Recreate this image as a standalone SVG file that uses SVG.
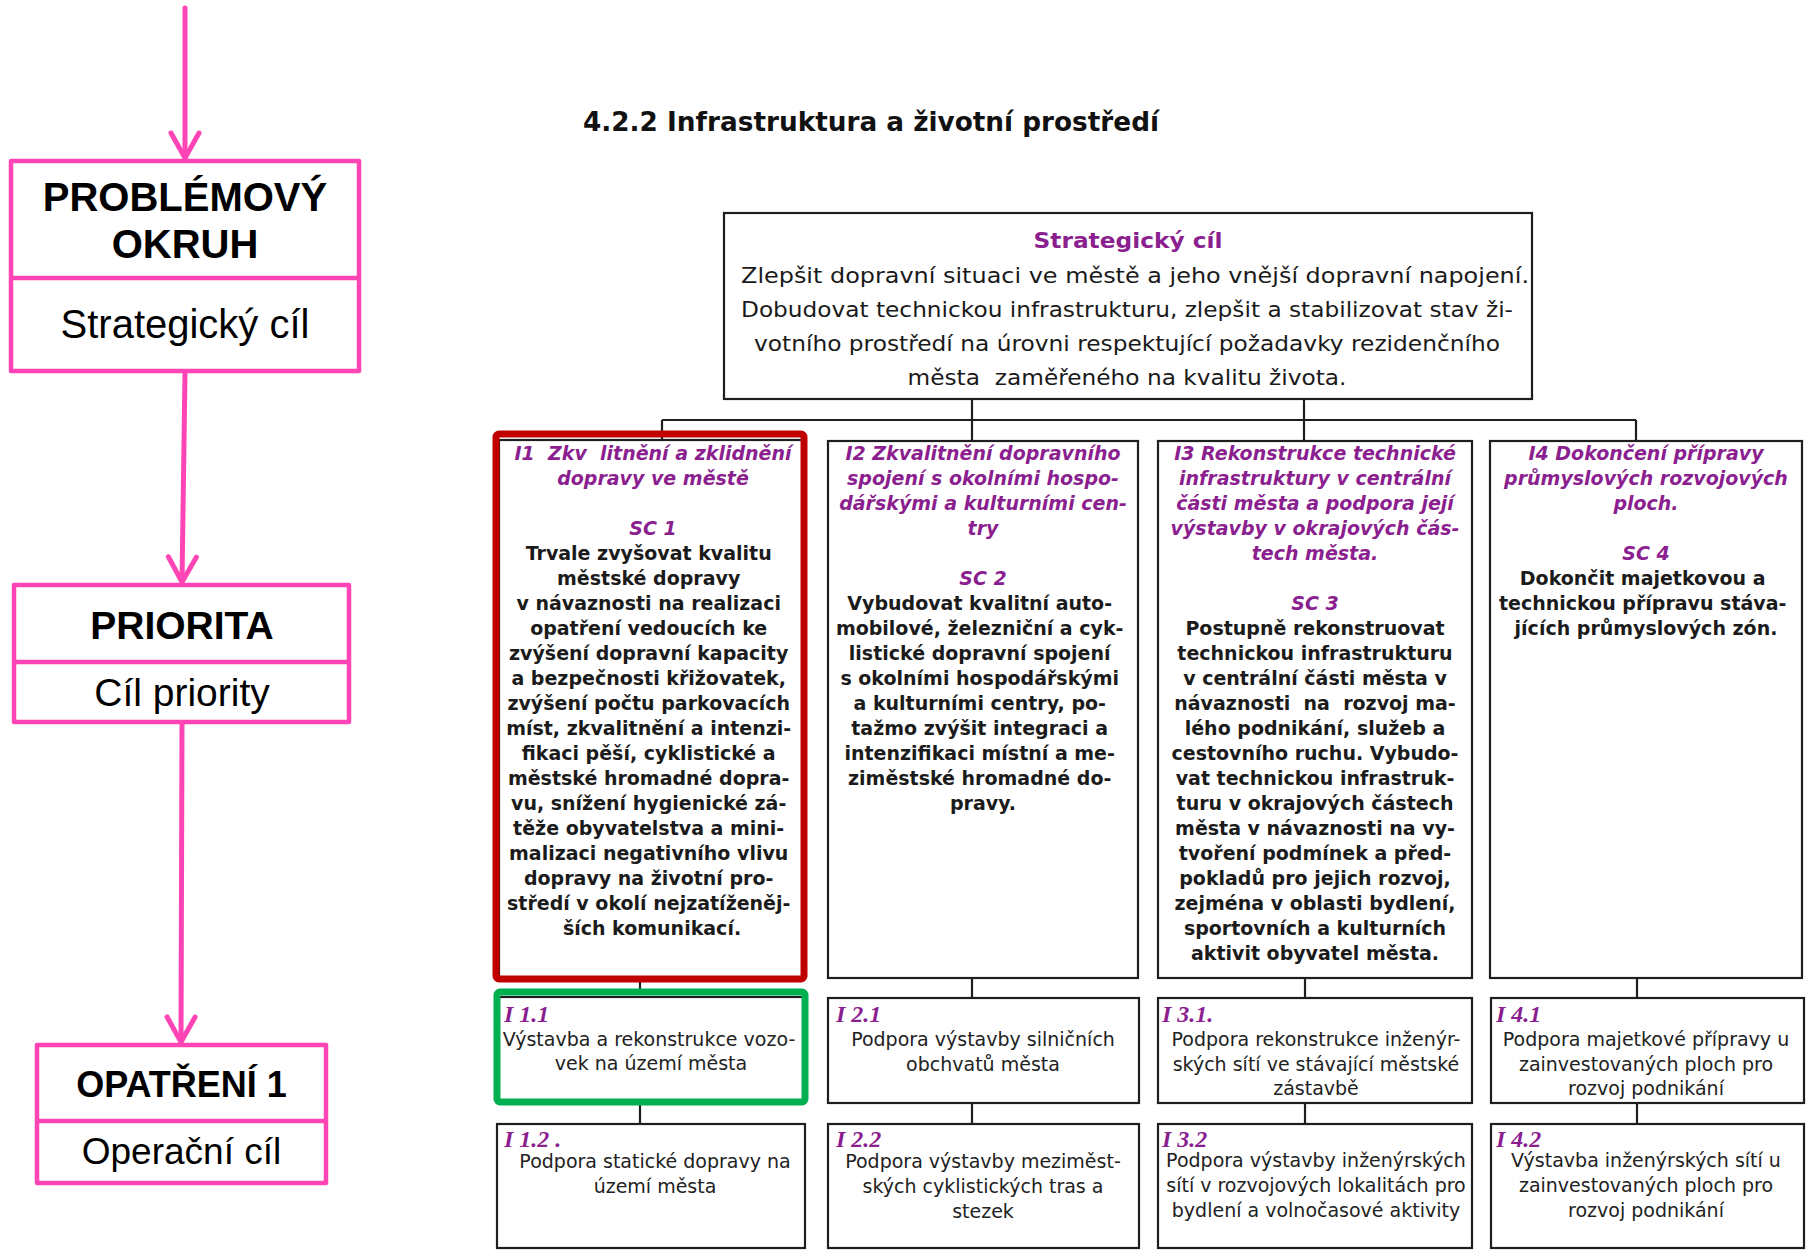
<svg xmlns="http://www.w3.org/2000/svg" width="1808" height="1250" viewBox="0 0 1808 1250">
<defs>
<style>
.pk{fill:none;stroke:#FF45B5;stroke-width:4.5;stroke-linejoin:round}
.pa{fill:none;stroke:#FF45B5;stroke-width:5;stroke-linecap:round}
.lb{font-family:"Liberation Sans",Arial,sans-serif;font-weight:bold;fill:#000;text-anchor:middle}
.lr{font-family:"Liberation Sans",Arial,sans-serif;fill:#000;text-anchor:middle}
.bx{fill:#fff;stroke:#1e1e1e;stroke-width:2.2}
.cn{fill:none;stroke:#1e1e1e;stroke-width:2.2}
.tt{font-family:"DejaVu Sans",Verdana,sans-serif;font-size:21px;fill:#1a1a1a;text-anchor:middle}
.ph{font-family:"DejaVu Sans",Verdana,sans-serif;font-size:19px;font-weight:bold;font-style:italic;fill:#8B1F8F;text-anchor:middle}
.sb{font-family:"DejaVu Sans",Verdana,sans-serif;font-size:19px;font-weight:bold;fill:#1b1b1b;text-anchor:middle}
.il{font-family:"Liberation Serif","Times New Roman",serif;font-size:24px;font-weight:bold;font-style:italic;fill:#8B1F8F}
.tx{font-family:"DejaVu Sans",Verdana,sans-serif;font-size:19px;fill:#222;text-anchor:middle}
</style>
<marker id="chev" markerUnits="userSpaceOnUse" markerWidth="60" markerHeight="60" viewBox="-30 -30 60 60" refX="0" refY="0" orient="auto" overflow="visible">
<path d="M-25,-14 L0,0 L-25,14" fill="none" stroke="#FF45B5" stroke-width="5" stroke-linecap="round" stroke-linejoin="round"/>
</marker>
</defs>
<rect width="1808" height="1250" fill="#fff"/>

<g id="pink-connectors">
<line class="pa" x1="185" y1="8" x2="185" y2="158" marker-end="url(#chev)"/>
<line class="pa" x1="185" y1="373" x2="182" y2="582" marker-end="url(#chev)"/>
<line class="pa" x1="182" y1="724" x2="181" y2="1042" marker-end="url(#chev)"/>
</g>

<g id="problemovy-okruh">
<rect class="pk" x="11" y="161" width="348" height="210"/>
<line class="pk" x1="11" y1="278" x2="359" y2="278"/>
<text class="lb" x="185" y="211" font-size="40">PROBLÉMOVÝ</text>
<text class="lb" x="185" y="258" font-size="40">OKRUH</text>
<text class="lr" x="185" y="338" font-size="40">Strategický cíl</text>
</g>

<g id="priorita">
<rect class="pk" x="14" y="585" width="335" height="137"/>
<line class="pk" x1="14" y1="662" x2="349" y2="662"/>
<text class="lb" x="182" y="639" font-size="39">PRIORITA</text>
<text class="lr" x="182" y="706" font-size="39">Cíl priority</text>
</g>

<g id="opatreni">
<rect class="pk" x="37" y="1045" width="289" height="138"/>
<line class="pk" x1="37" y1="1121" x2="326" y2="1121"/>
<text class="lb" x="181.5" y="1097" font-size="36">OPATŘENÍ 1</text>
<text class="lr" x="181.5" y="1164" font-size="37">Operační cíl</text>
</g>

<text id="title" x="583" y="131" font-family="DejaVu Sans, Verdana, sans-serif" font-weight="bold" font-size="26" fill="#111" textLength="576" lengthAdjust="spacingAndGlyphs">4.2.2 Infrastruktura a životní prostředí</text>

<g id="connectors">
<line class="cn" x1="972" y1="399" x2="972" y2="420"/>
<line class="cn" x1="1304" y1="399" x2="1304" y2="420"/>
<line class="cn" x1="662" y1="420" x2="1636" y2="420"/>
<line class="cn" x1="662" y1="420" x2="662" y2="440"/>
<line class="cn" x1="972" y1="420" x2="972" y2="441"/>
<line class="cn" x1="1304" y1="420" x2="1304" y2="441"/>
<line class="cn" x1="1636" y1="420" x2="1636" y2="441"/>
<line class="cn" x1="640" y1="980" x2="640" y2="992"/>
<line class="cn" x1="640" y1="1103" x2="640" y2="1124"/>
<line class="cn" x1="972" y1="978" x2="972" y2="998"/>
<line class="cn" x1="972" y1="1103" x2="972" y2="1124"/>
<line class="cn" x1="1305" y1="978" x2="1305" y2="998"/>
<line class="cn" x1="1305" y1="1103" x2="1305" y2="1124"/>
<line class="cn" x1="1637" y1="978" x2="1637" y2="998"/>
<line class="cn" x1="1637" y1="1103" x2="1637" y2="1124"/>
</g>

<g id="strategicky-cil">
<rect class="bx" x="724" y="213" width="808" height="186"/>
<text x="1128" y="248" font-family="DejaVu Sans, Verdana, sans-serif" font-weight="bold" font-size="22" fill="#8B1F8F" text-anchor="middle" textLength="189" lengthAdjust="spacingAndGlyphs">Strategický cíl</text>
<text class="tt" x="1135" y="283" textLength="788" lengthAdjust="spacingAndGlyphs">Zlepšit dopravní situaci ve městě a jeho vnější dopravní napojení.</text>
<text class="tt" x="1127" y="317" textLength="772" lengthAdjust="spacingAndGlyphs">Dobudovat technickou infrastrukturu, zlepšit a stabilizovat stav ži-</text>
<text class="tt" x="1127" y="351" textLength="746" lengthAdjust="spacingAndGlyphs">votního prostředí na úrovni respektující požadavky rezidenčního</text>
<text class="tt" x="1127" y="385" textLength="439" lengthAdjust="spacingAndGlyphs" xml:space="preserve">města  zaměřeného na kvalitu života.</text>
</g>

<g id="I1">
<rect class="bx" x="499" y="440" width="306" height="538"/>
<rect x="496" y="434" width="308" height="545" rx="3" fill="none" stroke="#C00000" stroke-width="7"/>
<text class="ph" xml:space="preserve"><tspan x="653" y="460">I1  Zkv  litnění a zklidnění</tspan><tspan x="653" y="485">dopravy ve městě</tspan><tspan x="653" y="535">SC 1</tspan></text>
<text class="sb">
<tspan x="652" y="560">Trvale zvyšovat kvalitu</tspan>
<tspan x="652" y="585">městské dopravy</tspan>
<tspan x="652" y="610">v návaznosti na realizaci</tspan>
<tspan x="652" y="635">opatření vedoucích ke</tspan>
<tspan x="652" y="660">zvýšení dopravní kapacity</tspan>
<tspan x="652" y="685">a bezpečnosti křižovatek,</tspan>
<tspan x="652" y="710">zvýšení počtu parkovacích</tspan>
<tspan x="652" y="735">míst, zkvalitnění a intenzi-</tspan>
<tspan x="652" y="760">fikaci pěší, cyklistické a</tspan>
<tspan x="652" y="785">městské hromadné dopra-</tspan>
<tspan x="652" y="810">vu, snížení hygienické zá-</tspan>
<tspan x="652" y="835">těže obyvatelstva a mini-</tspan>
<tspan x="652" y="860">malizaci negativního vlivu</tspan>
<tspan x="652" y="885">dopravy na životní pro-</tspan>
<tspan x="652" y="910">středí v okolí nejzatíženěj-</tspan>
<tspan x="652" y="935">ších komunikací.</tspan>
</text>
</g>

<g id="I2">
<rect class="bx" x="828" y="441" width="310" height="537"/>
<text class="ph"><tspan x="983" y="460">I2 Zkvalitnění dopravního</tspan><tspan x="983" y="485">spojení s okolními hospo-</tspan><tspan x="983" y="510">dářskými a kulturními cen-</tspan><tspan x="983" y="535">try</tspan><tspan x="983" y="585">SC 2</tspan></text>
<text class="sb">
<tspan x="983" y="610">Vybudovat kvalitní auto-</tspan>
<tspan x="983" y="635">mobilové, železniční a cyk-</tspan>
<tspan x="983" y="660">listické dopravní spojení</tspan>
<tspan x="983" y="685">s okolními hospodářskými</tspan>
<tspan x="983" y="710">a kulturními centry, po-</tspan>
<tspan x="983" y="735">tažmo zvýšit integraci a</tspan>
<tspan x="983" y="760">intenzifikaci místní a me-</tspan>
<tspan x="983" y="785">ziměstské hromadné do-</tspan>
<tspan x="983" y="810">pravy.</tspan>
</text>
</g>

<g id="I3">
<rect class="bx" x="1158" y="441" width="314" height="537"/>
<text class="ph"><tspan x="1315" y="460">I3 Rekonstrukce technické</tspan><tspan x="1315" y="485">infrastruktury v centrální</tspan><tspan x="1315" y="510">části města a podpora její</tspan><tspan x="1315" y="535">výstavby v okrajových čás-</tspan><tspan x="1315" y="560">tech města.</tspan><tspan x="1315" y="610">SC 3</tspan></text>
<text class="sb" xml:space="preserve"><tspan x="1315" y="635">Postupně rekonstruovat</tspan><tspan x="1315" y="660">technickou infrastrukturu</tspan><tspan x="1315" y="685">v centrální části města v</tspan><tspan x="1315" y="710">návaznosti  na  rozvoj ma-</tspan><tspan x="1315" y="735">lého podnikání, služeb a</tspan><tspan x="1315" y="760">cestovního ruchu. Vybudo-</tspan><tspan x="1315" y="785">vat technickou infrastruk-</tspan><tspan x="1315" y="810">turu v okrajových částech</tspan><tspan x="1315" y="835">města v návaznosti na vy-</tspan><tspan x="1315" y="860">tvoření podmínek a před-</tspan><tspan x="1315" y="885">pokladů pro jejich rozvoj,</tspan><tspan x="1315" y="910">zejména v oblasti bydlení,</tspan><tspan x="1315" y="935">sportovních a kulturních</tspan><tspan x="1315" y="960">aktivit obyvatel města.</tspan></text>
</g>

<g id="I4">
<rect class="bx" x="1490" y="441" width="312" height="537"/>
<text class="ph"><tspan x="1646" y="460">I4 Dokončení přípravy</tspan><tspan x="1646" y="485">průmyslových rozvojových</tspan><tspan x="1646" y="510">ploch.</tspan><tspan x="1646" y="560">SC 4</tspan></text>
<text class="sb">
<tspan x="1646" y="585">Dokončit majetkovou a</tspan>
<tspan x="1646" y="610">technickou přípravu stáva-</tspan>
<tspan x="1646" y="635">jících průmyslových zón.</tspan>
</text>
</g>

<g id="I1-1">
<rect class="bx" x="498" y="997" width="307" height="105"/>
<rect x="497" y="992" width="308" height="110" rx="3" fill="none" stroke="#00B050" stroke-width="7"/>
<text class="il" x="504" y="1022">I 1.1</text>
<text class="tx"><tspan x="649" y="1046">Výstavba a rekonstrukce vozo-</tspan><tspan x="651" y="1070">vek na území města</tspan></text>
</g>
<g id="I1-2">
<rect class="bx" x="497" y="1124" width="308" height="124"/>
<text class="il" x="504" y="1147">I 1.2 .</text>
<text class="tx"><tspan x="655" y="1168">Podpora statické dopravy na</tspan><tspan x="655" y="1193">území města</tspan></text>
</g>
<g id="I2-1">
<rect class="bx" x="828" y="998" width="311" height="105"/>
<text class="il" x="836" y="1022">I 2.1</text>
<text class="tx"><tspan x="983" y="1046">Podpora výstavby silničních</tspan><tspan x="983" y="1071">obchvatů města</tspan></text>
</g>
<g id="I2-2">
<rect class="bx" x="828" y="1124" width="311" height="124"/>
<text class="il" x="836" y="1147">I 2.2</text>
<text class="tx"><tspan x="983" y="1168">Podpora výstavby meziměst-</tspan><tspan x="983" y="1193">ských cyklistických tras a</tspan><tspan x="983" y="1218">stezek</tspan></text>
</g>
<g id="I3-1">
<rect class="bx" x="1158" y="998" width="314" height="105"/>
<text class="il" x="1162" y="1022">I 3.1.</text>
<text class="tx"><tspan x="1316" y="1046">Podpora rekonstrukce inženýr-</tspan><tspan x="1316" y="1071">ských sítí ve stávající městské</tspan><tspan x="1316" y="1095">zástavbě</tspan></text>
</g>
<g id="I3-2">
<rect class="bx" x="1158" y="1124" width="314" height="124"/>
<text class="il" x="1162" y="1147">I 3.2</text>
<text class="tx"><tspan x="1316" y="1167">Podpora výstavby inženýrských</tspan><tspan x="1316" y="1192">sítí v rozvojových lokalitách pro</tspan><tspan x="1316" y="1217">bydlení a volnočasové aktivity</tspan></text>
</g>
<g id="I4-1">
<rect class="bx" x="1491" y="998" width="313" height="105"/>
<text class="il" x="1496" y="1022">I 4.1</text>
<text class="tx"><tspan x="1646" y="1046">Podpora majetkové přípravy u</tspan><tspan x="1646" y="1071">zainvestovaných ploch pro</tspan><tspan x="1646" y="1095">rozvoj podnikání</tspan></text>
</g>
<g id="I4-2">
<rect class="bx" x="1491" y="1124" width="313" height="124"/>
<text class="il" x="1496" y="1147">I 4.2</text>
<text class="tx"><tspan x="1646" y="1167">Výstavba inženýrských sítí u</tspan><tspan x="1646" y="1192">zainvestovaných ploch pro</tspan><tspan x="1646" y="1217">rozvoj podnikání</tspan></text>
</g>
</svg>
